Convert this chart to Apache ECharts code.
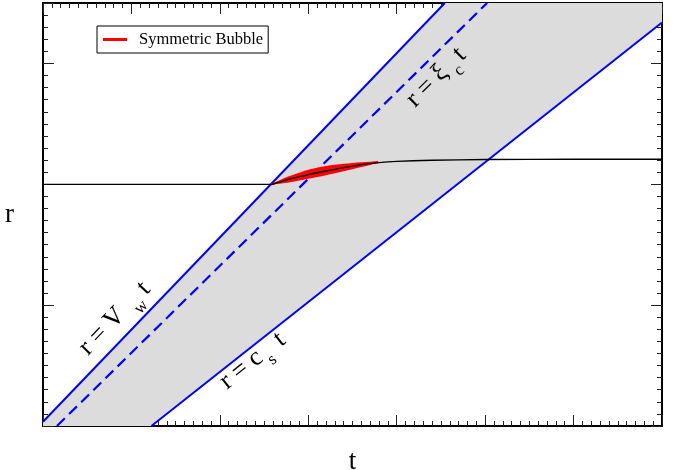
<!DOCTYPE html>
<html>
<head>
<meta charset="utf-8">
<script src="https://cdn.jsdelivr.net/npm/echarts@6/dist/echarts.min.js"></script>
<style>
  html, body { margin: 0; padding: 0; background: #fff; }
  #chart { width: 674px; height: 470px; }
</style>
</head>
<body>
<div id="chart"></div>
<script>
// axis ranges (t along x, r along y)
const tRange = [0, 7]
const rRange = [0, 3.5]

// straight fronts, [t, r] end points
const wallLine = [[0, 0.035], [4.544, 3.5]]
const xiLine = [[0.158, 0], [5.022, 3.5]]
const soundLine = [[1.226, 0], [7, 3.339]]

// shaded region between wall and sound fronts
const shadedRegion = [[0, 0], [0, 0.035], [4.544, 3.5], [7, 3.5], [7, 3.339], [1.226, 0]]

// black radius curve
const radiusCurve = [
  [0, 2.0], [2.584, 2.0], [2.7, 2.025], [2.83, 2.05], [3.0, 2.08], [3.2, 2.11],
  [3.4, 2.137], [3.6, 2.162], [3.8, 2.18], [4.0, 2.19], [4.4, 2.199], [5.0, 2.205],
  [6.0, 2.207], [7.0, 2.207]
]

// symmetric bubble (red band), upper and lower edges
const bubbleUpper = [[2.584, 2.0], [2.7, 2.042], [2.83, 2.078], [3.0, 2.12], [3.2, 2.152], [3.4, 2.17], [3.6, 2.183], [3.79, 2.189]]
const bubbleLower = [[2.584, 2.0], [2.7, 2.006], [2.83, 2.02], [3.0, 2.045], [3.2, 2.075], [3.4, 2.107], [3.6, 2.142], [3.79, 2.181]]
const bubbleMid = [[2.584, 2.0], [2.7, 2.025], [2.83, 2.05], [3.0, 2.08], [3.2, 2.11], [3.4, 2.137], [3.6, 2.162], [3.79, 2.185]]

const serif = '"Liberation Serif", "DejaVu Serif", serif'
const chart = echarts.init(document.getElementById('chart'), null, { renderer: 'canvas' })

function polygonSeries(points, color, z, smooth) {
  return {
    type: 'custom',
    data: points,
    z,
    silent: true,
    encode: { x: 0, y: 1 },
    renderItem: (params, api) => {
      if (params.dataIndex !== 0) return
      return {
        type: 'polygon',
        shape: { points: points.map((p) => api.coord(p)), smooth: smooth || 0 },
        style: { fill: color, stroke: null }
      }
    }
  }
}

function lineSeries(name, data, color, width, type, z, smooth) {
  return {
    name,
    type: 'line',
    data,
    z,
    color,
    smooth: smooth || false,
    symbol: 'none',
    silent: true,
    lineStyle: { color, width, type }
  }
}

function makeAxis(range, position, step, len, showLine, extra) {
  return Object.assign({
    type: 'value',
    position,
    min: range[0],
    max: range[1],
    interval: step,
    axisLine: { show: showLine, onZero: false, lineStyle: { color: '#000', width: 2 } },
    axisTick: { show: true, inside: true, length: len, lineStyle: { color: '#222', width: 1 } },
    axisLabel: { show: false },
    splitLine: { show: false }
  }, extra || {})
}

const axisName = { fontFamily: serif, fontSize: 27, color: '#000' }

function subLabel(x, y, deg, main, sub, tail, subX, tailX) {
  const font = '26px ' + serif
  const t = (text, tx, ty, f) => ({
    type: 'text', x: tx, y: ty, z: 100,
    style: { text, font: f, fill: '#000', verticalAlign: 'bottom' }
  })
  return {
    type: 'group',
    x, y, z: 100,
    rotation: deg * Math.PI / 180,
    silent: true,
    children: [
      t(main, 0, 6, font),
      t(sub, subX, 13, '17px ' + serif),
      t(tail, tailX, 6, font)
    ]
  }
}

const reversedLower = bubbleLower.slice().reverse()

chart.setOption({
  animation: false,
  backgroundColor: '#fff',
  grid: { left: 43, right: 12, top: 3, bottom: 44, outerBoundsMode: 'none' },
  legend: {
    data: [{ name: 'Symmetric Bubble', icon: 'rect' }],
    left: 97,
    top: 26,
    padding: [5, 5, 5, 6],
    borderColor: '#000',
    borderWidth: 1,
    backgroundColor: '#fff',
    itemWidth: 24,
    itemHeight: 3,
    itemGap: 12,
    textStyle: { fontFamily: serif, fontSize: 16.5, color: '#000', padding: [0, 0, 0, 7] }
  },
  xAxis: [
    makeAxis(tRange, 'bottom', 1, 11, true, { name: 't', nameLocation: 'middle', nameGap: 22, nameTextStyle: axisName }),
    makeAxis(tRange, 'bottom', 0.1, 5, false),
    makeAxis(tRange, 'top', 1, 11, true),
    makeAxis(tRange, 'top', 0.1, 5, false)
  ],
  yAxis: [
    makeAxis(rRange, 'left', 1, 11, true, { name: 'r', nameLocation: 'middle', nameGap: 29, nameRotate: 0, nameTextStyle: axisName }),
    makeAxis(rRange, 'left', 0.1, 5, false),
    makeAxis(rRange, 'right', 1, 11, true),
    makeAxis(rRange, 'right', 0.1, 5, false)
  ],
  series: [
    polygonSeries(shadedRegion, '#dcdcdc', 1, 0),
    lineSeries('wall', wallLine, '#0000ff', 2, 'solid', 3),
    lineSeries('xi', xiLine, '#0000ff', 2.2, [11, 6], 3),
    lineSeries('sound', soundLine, '#0000ff', 2, 'solid', 3),
    polygonSeries(bubbleUpper.concat(reversedLower), '#ff0000', 4, 0.3),
    lineSeries('Symmetric Bubble', bubbleMid, '#ff0000', 2, 'solid', 4, 0.3),
    lineSeries('radius', radiusCurve, '#000', 1.3, 'solid', 5, 0.3)
  ],
  graphic: [
    subLabel(88, 356, 46, 'r = V', 'w', 't', 66, 84),
    subLabel(227, 390, 38.4, 'r = c', 's', 't', 51, 69),
    subLabel(415, 108, 44.6, 'r = ξ', 'c', 't', 54, 66)
  ]
})
</script>
</body>
</html>
